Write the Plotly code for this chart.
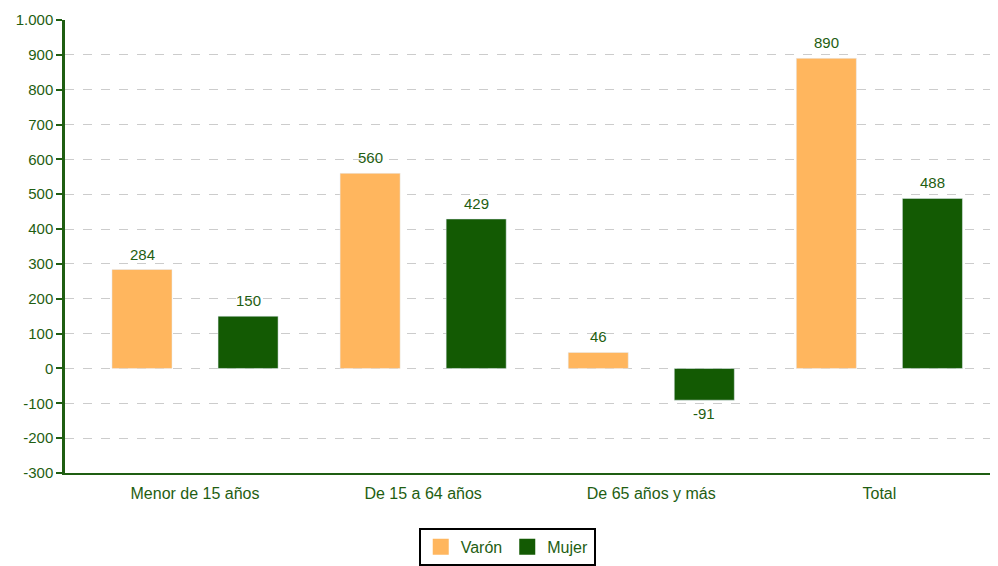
import plotly.graph_objects as go

categories = ["Menor de 15 años", "De 15 a 64 años", "De 65 años y más", "Total"]
varon = [284, 560, 46, 890]
mujer = [150, 429, -91, 488]
y_ticks = [-300, -200, -100, 0, 100, 200, 300, 400, 500, 600, 700, 800, 900, 1000]
y_tick_labels = ["-300", "-200", "-100", "0", "100", "200", "300", "400", "500",
                 "600", "700", "800", "900", "1.000"]

ORANGE = "#FFB65E"
GREEN = "#135A03"
TXT = "#1f5e12"
FONT = "Liberation Sans, Arial, sans-serif"

fig = go.Figure()
fig.add_trace(go.Bar(x=categories, y=varon, name="Varón", marker_color=ORANGE,
                     showlegend=False))
fig.add_trace(go.Bar(x=categories, y=mujer, name="Mujer", marker_color=GREEN,
                     showlegend=False))
# legend entries
for nm, col in [("Varón", ORANGE), ("Mujer", GREEN)]:
    fig.add_trace(go.Scatter(x=[None], y=[None], mode="markers", name=nm,
                             marker=dict(symbol="square", size=16, color=col)))

# value labels
for vals, xs in [(varon, -53), (mujer, 53)]:
    for c, v in zip(categories, vals):
        fig.add_annotation(x=c, y=v, text=str(v), showarrow=False,
                           xshift=xs, yshift=(5 if v >= 0 else -3),
                           yanchor=("bottom" if v >= 0 else "top"),
                           font=dict(size=15, color=TXT, family=FONT))

fig.update_layout(
    width=990, height=558,
    margin=dict(l=57, r=0, t=12, b=93),
    plot_bgcolor="white", paper_bgcolor="white",
    barmode="group", bargap=0.07, bargroupgap=0.434,
    font=dict(family=FONT, color=TXT, size=15),
    showlegend=True,
    legend=dict(orientation="h", x=0.474, xanchor="center", y=-0.121, yanchor="top",
                bordercolor="black", borderwidth=2, font=dict(size=16, color=TXT),
                itemsizing="trace"),
)
fig.update_xaxes(range=[-0.57, 3.52], showgrid=False, showline=True, linecolor=TXT,
                 linewidth=2, ticks="", tickfont=dict(size=16, color=TXT),
                 ticklabelstandoff=5, automargin=False)
fig.update_yaxes(range=[-300, 1000], tickvals=y_ticks, ticktext=y_tick_labels,
                 showgrid=True, gridcolor="#cccccc", griddash="dash", gridwidth=1,
                 zeroline=False, showline=True, linecolor=TXT, linewidth=2.5,
                 ticks="outside", ticklen=6, tickwidth=2, tickcolor=TXT,
                 tickfont=dict(size=15, color=TXT), automargin=False)

fig.write_html("out.html")
